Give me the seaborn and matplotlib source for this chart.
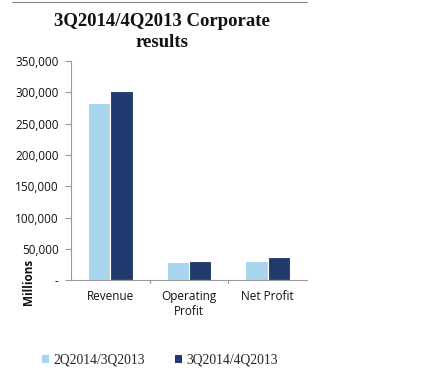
import matplotlib
matplotlib.use("Agg")
import matplotlib.pyplot as plt
import seaborn as sns
import pandas as pd
from matplotlib.patches import Patch
from matplotlib.lines import Line2D

categories = ["Revenue", "Operating\nProfit", "Net Profit"]
series_names = ["2Q2014/3Q2013", "3Q2014/4Q2013"]
values_2q = [283000, 29000, 31000]
values_3q = [302000, 30000, 36500]
yticks = [0, 50000, 100000, 150000, 200000, 250000, 300000, 350000]
ytick_labels = ["-", "50,000", "100,000", "150,000", "200,000", "250,000", "300,000", "350,000"]
title = "3Q2014/4Q2013 Corporate\nresults"
colors = ["#a8d4ee", "#213a6e"]

df = pd.DataFrame({
    "category": categories * 2,
    "series": [series_names[0]] * 3 + [series_names[1]] * 3,
    "value": values_2q + values_3q,
})

sns.set_style("white")
fig = plt.figure(figsize=(4.39, 3.77), dpi=100)
ax = fig.add_axes([0.162, 0.257, 0.537, 0.581])
sns.barplot(data=df, x="category", y="value", hue="series", palette=colors,
            width=0.57, ax=ax, edgecolor="white", linewidth=0.8, legend=False,
            saturation=1)

ax.set_ylim(0, 350000)
ax.set_xlim(-0.5, 2.5)
ax.set_yticks(yticks)
ax.set_yticklabels(ytick_labels, fontsize=8.5, family="Open Sans", color="#111111")
ax.set_xticks([0, 1, 2])
ax.set_xticklabels(categories, fontsize=8.5, family="Open Sans", color="#111111")
ax.tick_params(axis="x", length=0, pad=7)
ax.tick_params(axis="y", left=True, length=4, color="#999999", width=0.8, pad=5)
for b in [0.5, 1.5]:
    ax.plot([b, b], [0, -0.015], transform=ax.get_xaxis_transform(), color="#999999", lw=0.8, clip_on=False)
for s in ["top", "right"]:
    ax.spines[s].set_visible(False)
for s in ["left", "bottom"]:
    ax.spines[s].set_color("#999999")
    ax.spines[s].set_linewidth(0.8)
ax.set_xlabel("")
ax.set_ylabel("Millions", fontsize=8.5, family="Open Sans", fontweight="bold", color="#111111")
ax.yaxis.set_label_coords(-0.155, -0.01)

fig.text(0.37, 0.915, title, ha="center", va="center", family="Liberation Serif",
         fontweight="bold", fontsize=13.5, linespacing=1.3, color="#111111")
fig.add_artist(Line2D([0.027, 0.70], [0.994, 0.994], color="#888888", lw=0.8))

handles = [Patch(facecolor=c, edgecolor="none") for c in colors]
fig.legend(handles, series_names, loc="center", bbox_to_anchor=(0.365, 0.045), ncol=2,
           frameon=False, handlelength=0.5, handleheight=0.5, handletextpad=0.35,
           columnspacing=2.2, prop={"family": "Liberation Serif", "size": 9.8})

fig.savefig("out.png", dpi=100, facecolor="white")
